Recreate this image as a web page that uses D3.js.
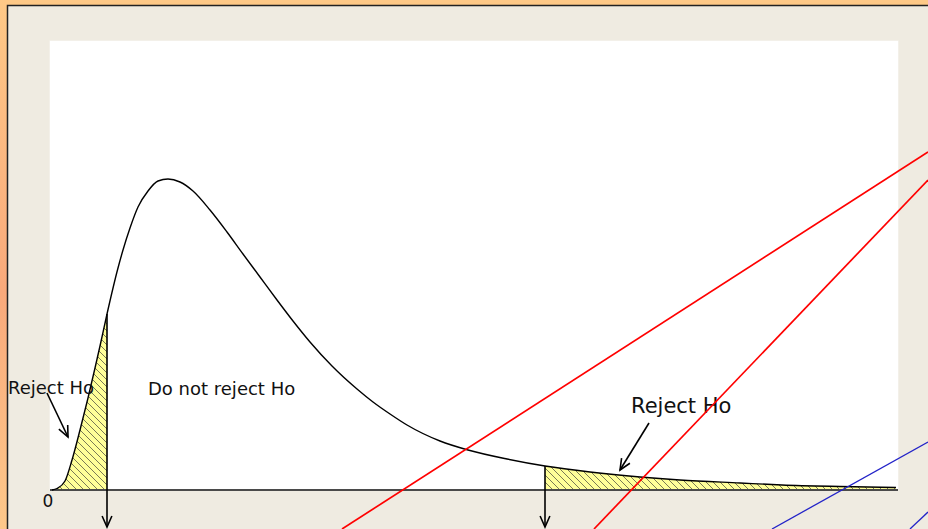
<!DOCTYPE html>
<html>
<head>
<meta charset="utf-8">
<script src="https://cdn.jsdelivr.net/npm/d3@7/dist/d3.min.js"></script>
<style>
  html, body { margin: 0; padding: 0; background: #fdc585; }
  svg { display: block; }
  text { font-family: "DejaVu Sans", Verdana, sans-serif; fill: #111; }
</style>
</head>
<body>
<svg id="chart" width="928" height="529"></svg>
<script>
// Density curve of the test statistic (x value, density)
const curveX = [0.02, 0.07, 0.15, 0.22, 0.30, 0.38, 0.45, 0.50, 0.57, 0.68, 0.73, 0.80, 0.88, 0.98, 1.08, 1.18, 1.30, 1.43, 1.60, 1.77, 1.93, 2.10, 2.27, 2.43, 2.60, 2.82, 3.07, 3.23, 3.40, 3.57, 3.90, 4.18, 4.57, 4.95, 5.40, 5.90, 6.30, 6.90, 7.32, 7.90, 8.46];
const curveY = [0.000, 0.00375, 0.0225, 0.075, 0.150, 0.230, 0.305, 0.360, 0.440, 0.555, 0.600, 0.655, 0.7075, 0.7475, 0.7725, 0.7775, 0.770, 0.7475, 0.700, 0.645, 0.590, 0.5325, 0.475, 0.4225, 0.370, 0.310, 0.2525, 0.220, 0.190, 0.1625, 0.1225, 0.100, 0.0775, 0.060, 0.045, 0.0325, 0.025, 0.0175, 0.0125, 0.00875, 0.00625];

// Critical values bounding the rejection regions
const criticalValues = [0.57, 4.95];
const axisTickLabels = ["0"];

// Region labels: text, anchor x, anchor y (data units)
const regionLabels = ["Reject Ho", "Do not reject Ho", "Reject Ho"];
const regionLabelX = [-0.42, 0.98, 5.81];
const regionLabelY = [0.24, 0.2375, 0.1925];
const regionLabelSize = [18, 18, 21];

// Pointer arrows from labels to the shaded tails (start x, start y, end x, end y)
const pointerX0 = [-0.03, 5.99];
const pointerY0 = [0.2425, 0.1675];
const pointerX1 = [0.18, 5.70];
const pointerY1 = [0.1325, 0.050];

// Straight guide lines (two red, two blue), given by two points each
const guideColor = ["#ff0000", "#ff0000", "#2323c8", "#2323c8"];
const guideX0 = [2.92, 5.44, 7.22, 8.60];
const guideY0 = [-0.0975, -0.0975, -0.0975, -0.0975];
const guideX1 = [8.78, 8.78, 8.78, 8.78];
const guideY1 = [0.845, 0.775, 0.12, -0.055];

const W = 928, H = 529;
const svg = d3.select("#chart");

const x = d3.scaleLinear().domain([0, 8.48]).range([50, 898]);
const y = d3.scaleLinear().domain([0, 1]).range([490, 90]);
const arrowTip = -0.0925;

const data = curveX.map((v, i) => ({ x: v, y: curveY[i] }));

// ---- frame ----
const defs = svg.append("defs");
const side = defs.append("linearGradient").attr("id", "sideGrad")
  .attr("x1", 0).attr("y1", 0).attr("x2", 0).attr("y2", 1);
side.append("stop").attr("offset", "0%").attr("stop-color", "#fec987");
side.append("stop").attr("offset", "55%").attr("stop-color", "#f9a97b");
side.append("stop").attr("offset", "100%").attr("stop-color", "#fdc88a");

svg.append("rect").attr("width", W).attr("height", H).attr("fill", "#fec987");
svg.append("rect").attr("width", 7).attr("height", H).attr("fill", "url(#sideGrad)");
svg.append("rect").attr("x", 7.5).attr("y", 5.5).attr("width", W + 10).attr("height", H + 10)
  .attr("fill", "#efebe1").attr("stroke", "#222").attr("stroke-width", 1.5);

// plot panel
svg.append("rect").attr("x", 49.5).attr("y", 40.5).attr("width", 849).attr("height", 450)
  .attr("fill", "#f7f6f2");
svg.append("rect").attr("x", x(0)).attr("y", 41).attr("width", x(8.48) - x(0)).attr("height", y(0) - 41)
  .attr("fill", "#ffffff");

// ---- hatch pattern for rejection regions ----
const pat = defs.append("pattern").attr("id", "hatch")
  .attr("patternUnits", "userSpaceOnUse").attr("width", 7).attr("height", 7);
pat.append("rect").attr("width", 7).attr("height", 7).attr("fill", "#ffff99");
pat.append("path").attr("d", "M-1,-1 L8,8 M-1,6 L1,8 M6,-1 L8,1")
  .attr("stroke", "#7a7a55").attr("stroke-width", 1);

const area = d3.area().x(d => x(d.x)).y0(y(0)).y1(d => y(d.y)).curve(d3.curveMonotoneX);
const line = d3.line().x(d => x(d.x)).y(d => y(d.y)).curve(d3.curveMonotoneX);

const leftTail = data.filter(d => d.x <= criticalValues[0]);
const rightTail = data.filter(d => d.x >= criticalValues[1]);

svg.append("path").datum(leftTail).attr("d", area).attr("fill", "url(#hatch)");
svg.append("path").datum(rightTail).attr("d", area).attr("fill", "url(#hatch)");

// baseline
svg.append("line").attr("x1", x(0)).attr("x2", x(8.48)).attr("y1", y(0)).attr("y2", y(0))
  .attr("stroke", "#4a4a4a").attr("stroke-width", 2);

// density curve
svg.append("path").datum(data).attr("d", line)
  .attr("fill", "none").attr("stroke", "#000").attr("stroke-width", 1.4);

// ---- arrows ----
function arrow(x0, y0, x1, y1, width) {
  const g = svg.append("g").attr("stroke", "#000").attr("stroke-width", width).attr("fill", "none");
  g.append("line").attr("x1", x0).attr("y1", y0).attr("x2", x1).attr("y2", y1);
  const a = Math.atan2(y1 - y0, x1 - x0);
  const len = 12, spread = 0.42;
  const p1 = [x1 - len * Math.cos(a - spread), y1 - len * Math.sin(a - spread)];
  const p2 = [x1 - len * Math.cos(a + spread), y1 - len * Math.sin(a + spread)];
  g.append("path").attr("d", `M${p1[0]},${p1[1]} L${x1},${y1} L${p2[0]},${p2[1]}`);
}

// critical value markers
const densityAt = v => curveY[curveX.findIndex(c => c >= v)];
criticalValues.forEach(c => {
  arrow(x(c), y(densityAt(c)), x(c), y(arrowTip), 1.6);
});

// label pointers
pointerX0.forEach((v, i) => {
  arrow(x(v), y(pointerY0[i]), x(pointerX1[i]), y(pointerY1[i]), 1.6);
});

// ---- labels ----
regionLabels.forEach((t, i) => {
  svg.append("text").attr("x", x(regionLabelX[i])).attr("y", y(regionLabelY[i]))
    .attr("font-size", regionLabelSize[i]).text(t);
});
svg.append("text").attr("x", x(0) - 2).attr("y", 507).attr("text-anchor", "middle")
  .attr("font-size", 17).text(axisTickLabels[0]);

// ---- guide lines ----
guideX0.forEach((v, i) => {
  svg.append("line")
    .attr("x1", x(v)).attr("y1", y(guideY0[i]))
    .attr("x2", x(guideX1[i])).attr("y2", y(guideY1[i]))
    .attr("stroke", guideColor[i]).attr("stroke-width", i < 2 ? 1.7 : 1.3);
});
</script>
</body>
</html>
